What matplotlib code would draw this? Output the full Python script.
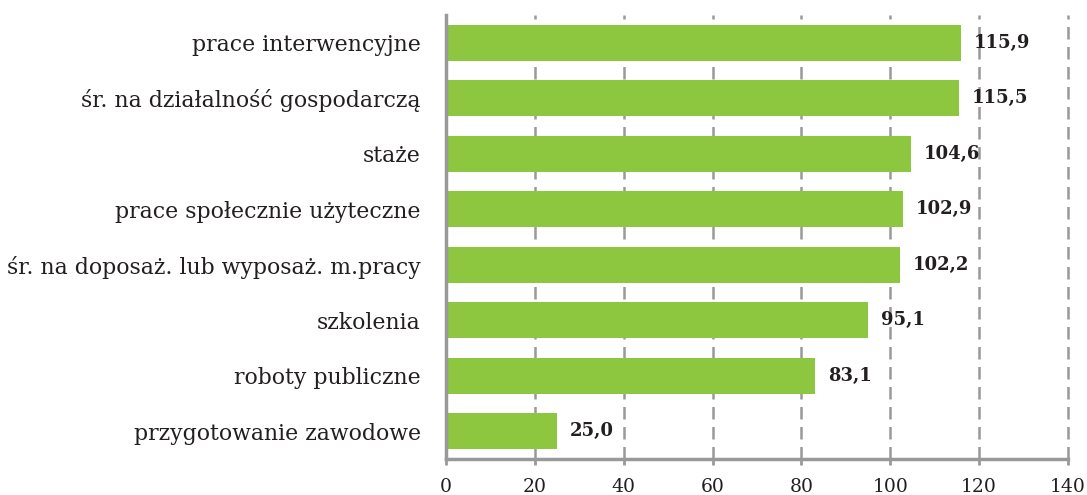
import matplotlib
matplotlib.use("Agg")
import matplotlib.pyplot as plt

categories = ["prace interwencyjne", "śr. na działalność gospodarczą", "staże",
              "prace społecznie użyteczne", "śr. na doposaż. lub wyposaż. m.pracy",
              "szkolenia", "roboty publiczne", "przygotowanie zawodowe"]
values = [115.9, 115.5, 104.6, 102.9, 102.2, 95.1, 83.1, 25.0]
xticks = [0, 20, 40, 60, 80, 100, 120, 140]

plt.rcParams['font.family'] = ['DejaVu Serif']
fig = plt.figure(figsize=(10.87, 4.95), dpi=100)
ax = fig.add_axes([0.4103, 0.0727, 0.5722, 0.897])

ypos = list(range(len(categories)))
ax.barh(ypos, values, height=0.65, color="#8DC63F", zorder=2)
ax.set_ylim(len(categories) - 0.5, -0.5)
ax.set_xlim(0, 140)
ax.set_xticks(xticks)
ax.set_xticklabels([str(t) for t in xticks], fontsize=13.5, color="#231F20")
ax.set_yticks(ypos)
ax.set_yticklabels(categories, fontsize=15.8, color="#231F20")
ax.tick_params(axis='y', length=0, pad=18)
ax.tick_params(axis='x', length=4, width=2, color="#999999", pad=10)

for x in xticks[1:]:
    ax.axvline(x, color="#999999", linestyle=(0, (5, 3)), linewidth=1.8,
               zorder=1, clip_on=False)

for s in ["top", "right"]:
    ax.spines[s].set_visible(False)
for s in ["left", "bottom"]:
    ax.spines[s].set_color("#999999")
    ax.spines[s].set_linewidth(2.5)

for y, v in zip(ypos, values):
    ax.text(v + 2.9, y, f"{v:.1f}".replace(".", ","), va="center", ha="left",
            fontsize=13, fontweight="bold", color="#231F20")

fig.savefig("out.png", dpi=100)
